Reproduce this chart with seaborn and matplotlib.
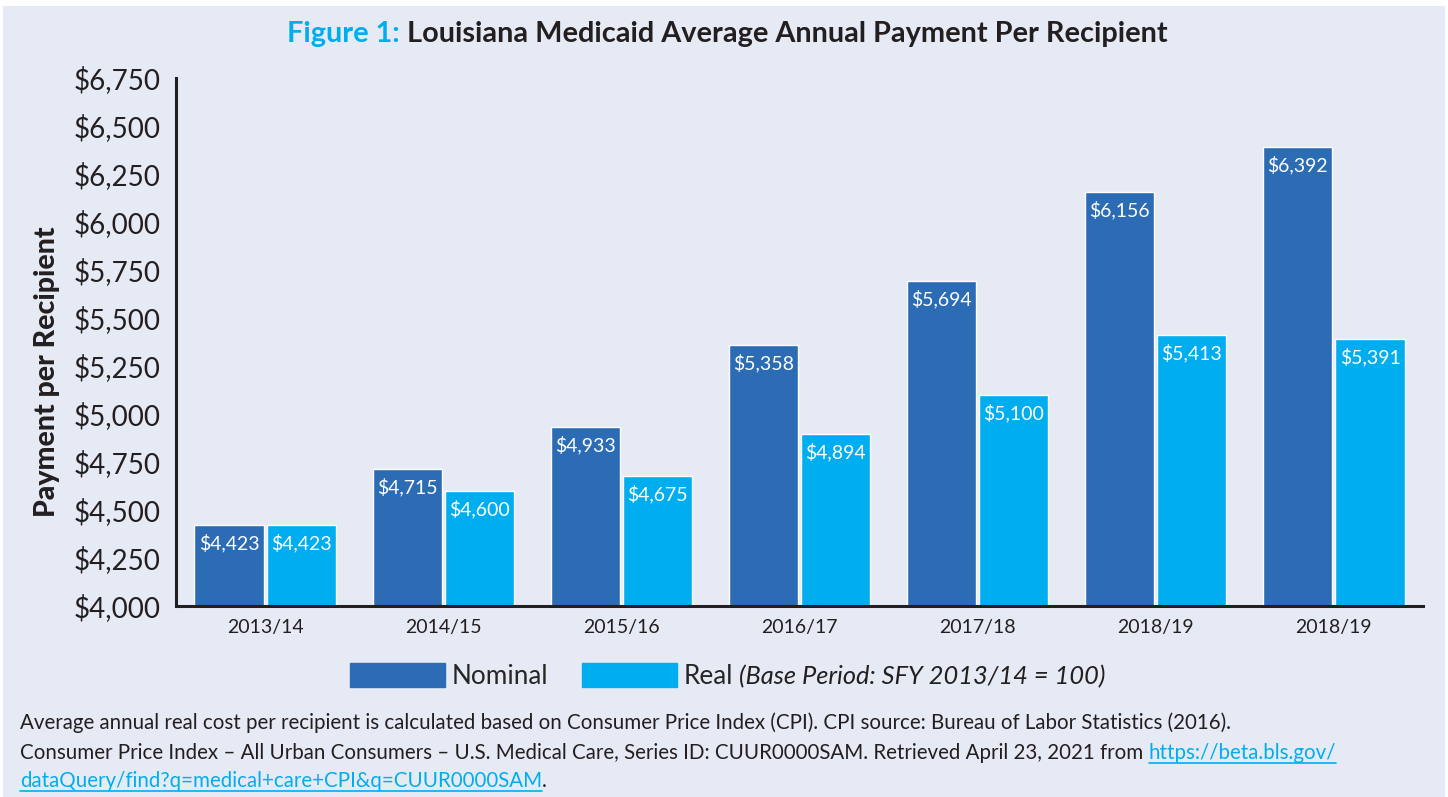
import pandas as pd
import matplotlib.pyplot as plt
import matplotlib.patches as mpatches
from matplotlib.ticker import FuncFormatter, MultipleLocator
import seaborn as sns

# data
years = ['2013/14', '2014/15', '2015/16', '2016/17', '2017/18', '2018/19', '2018/19 ']
nominal = [4423, 4715, 4933, 5358, 5694, 6156, 6392]
real = [4423, 4600, 4675, 4894, 5100, 5413, 5391]
series = ['Nominal', 'Real']
colors = ['#2B6CB5', '#00AEEF']

df = pd.DataFrame({
    'Year': years * 2,
    'Payment': nominal + real,
    'Series': ['Nominal'] * len(years) + ['Real'] * len(years),
})

sns.set_style('white')
FONT = 'Lato'
plt.rcParams['font.family'] = [FONT, 'DejaVu Sans']

BG = '#E6EAF5'
DARK = '#231F20'
CYAN = '#00AEEF'

fig = plt.figure(figsize=(14.48, 7.97), dpi=100, facecolor='white')
fig.patches.append(mpatches.Rectangle((3 / 1448, 0), 1 - 6 / 1448, 1 - 6 / 797,
                                      transform=fig.transFigure, facecolor=BG,
                                      edgecolor='none', zorder=-10))
ax = fig.add_axes([176 / 1448, 1 - 606 / 797, (1423 - 176) / 1448, (606 - 78) / 797])
ax.set_facecolor(BG)
ax.patch.set_alpha(0)

sns.barplot(data=df, x='Year', y='Payment', hue='Series', hue_order=series,
            palette=colors, width=0.81, gap=0.04, saturation=1, ax=ax, legend=False)

ax.set_ylim(4000, 6750)
ax.set_xlim(-0.5, len(years) - 0.5)
ax.yaxis.set_major_locator(MultipleLocator(250))
ax.yaxis.set_minor_locator(MultipleLocator(125))
ax.yaxis.set_major_formatter(FuncFormatter(lambda v, p: f'${v:,.0f}'))
ax.set_xticks(range(len(years)))
ax.set_xticklabels([y.strip() for y in years], fontsize=14, color=DARK)
ax.set_xticks([i - 0.5 for i in range(len(years) + 1)], minor=True)
ax.tick_params(axis='x', which='major', length=0, pad=9)
ax.tick_params(axis='x', which='minor', direction='out', length=9, width=2.2, color=DARK)
ax.tick_params(axis='y', which='major', direction='out', length=8, width=2.2, color=DARK,
               labelsize=20, labelcolor=DARK, pad=3)
ax.tick_params(axis='y', which='minor', direction='in', length=4, width=1, color='#999999')

for s in ['top', 'right']:
    ax.spines[s].set_visible(False)
for s in ['left', 'bottom']:
    ax.spines[s].set_color(DARK)
    ax.spines[s].set_linewidth(2.2)

ax.set_xlabel('')
ax.set_ylabel('Payment per Recipient', fontsize=20.5, fontweight='black', color=DARK)
ax.yaxis.set_label_coords(-0.093, 0.443)

# value labels inside bar tops
for cont in ax.containers:
    for bar in cont:
        h = bar.get_height()
        ax.annotate(f'${h:,.0f}', (bar.get_x() + bar.get_width() / 2, h),
                    xytext=(0, -13), textcoords='offset points',
                    ha='center', va='center', color='white', fontsize=14)

# legend
handles = [mpatches.Patch(color=c) for c in colors]
leg = fig.legend(handles, series, loc='center left', bbox_to_anchor=(326 / 1448, 1 - 676 / 797),
                 ncol=2, frameon=False, fontsize=18.8, handlelength=3.65, handleheight=1.05,
                 columnspacing=1.3, handletextpad=0.25)

# title and footnote, composed from pieces
fig.canvas.draw()
rend = fig.canvas.get_renderer()

real_bb = leg.get_texts()[1].get_window_extent(rend).transformed(fig.transFigure.inverted())
fig.text(real_bb.x1 + 6 / 1448, (real_bb.y0 + real_bb.y1) / 2, '(Base Period: SFY 2013/14 = 100)',
         fontsize=18.3, style='italic', color=DARK, va='center')

def place_run(parts, x, y, ha='left', **kw):
    # parts: list of (text, color, underline)
    texts = []
    cx = x
    for t, c, ul in parts:
        txt = fig.text(cx, y, t, color=c, va='baseline', **kw)
        bb = txt.get_window_extent(rend).transformed(fig.transFigure.inverted())
        texts.append((txt, bb, ul, c))
        cx = bb.x1
    if ha == 'center':
        total = cx - x
        for txt, bb, ul, c in texts:
            txt.set_x(txt.get_position()[0] - total / 2)
    for txt, bb, ul, c in texts:
        if ul:
            x0 = txt.get_position()[0]
            fig.add_artist(plt.Line2D([x0, x0 + bb.width], [y - 4 / 797, y - 4 / 797],
                                      transform=fig.transFigure, color=c, lw=1.2))

place_run([('Figure 1:', CYAN, False),
           (' Louisiana Medicaid Average Annual Payment Per Recipient', DARK, False)],
          727 / 1448, 1 - 42 / 797, ha='center', fontsize=20.8, fontweight='bold')

foot_y = [729, 759, 787]
fs = 14.8
place_run([('Average annual real cost per recipient is calculated based on Consumer Price Index (CPI). '
            'CPI source: Bureau of Labor Statistics (2016).', DARK, False)],
          20 / 1448, 1 - foot_y[0] / 797, fontsize=fs)
place_run([('Consumer Price Index \u2013 All Urban Consumers \u2013 U.S. Medical Care, Series ID: '
            'CUUR0000SAM. Retrieved April 23, 2021 from ', DARK, False),
           ('https://beta.bls.gov/', CYAN, True)],
          20 / 1448, 1 - foot_y[1] / 797, fontsize=fs)
place_run([('dataQuery/find?q=medical+care+CPI&q=CUUR0000SAM', CYAN, True), ('.', DARK, False)],
          20 / 1448, 1 - foot_y[2] / 797, fontsize=fs)

fig.savefig('out.png', dpi=100, facecolor=fig.get_facecolor())
